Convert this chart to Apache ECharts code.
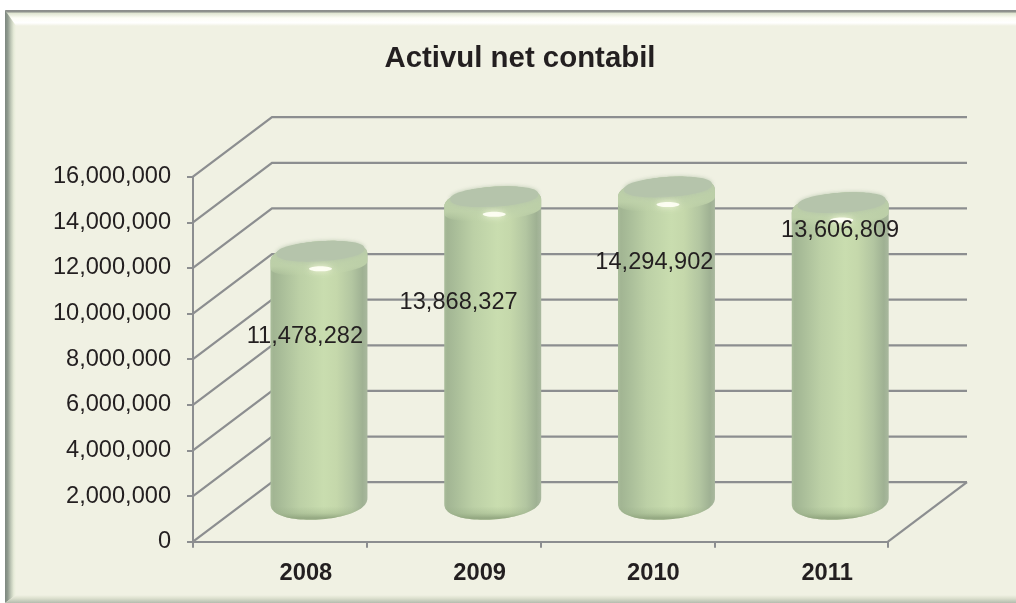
<!DOCTYPE html>
<html>
<head>
<meta charset="utf-8">
<style>html,body{margin:0;padding:0;background:#fff}#c{width:1016px;height:603px}</style>
<script src="https://cdn.jsdelivr.net/npm/echarts@6/dist/echarts.min.js"></script>
</head>
<body>
<div id="c"></div>
<script>
const titleText = 'Activul net contabil';
const categories = ['2008', '2009', '2010', '2011'];
const values = [11478282, 13868327, 14294902, 13606809];
const yTicks = [0, 2000000, 4000000, 6000000, 8000000, 10000000, 12000000, 14000000, 16000000];

const FONT = '"Liberation Sans", Arial, sans-serif';
const INK = '#231f20';
const LINE = '#8c8e90';
const BG = '#f0f1e3';
const DEPTH_X = 79, DEPTH_Y = -59.5;
// label nudges relative to the bar's front position
const labelNudge = [[25, 57], [5, 77], [27, 47], [39, -1]];

const chart = echarts.init(document.getElementById('c'), null, {renderer: 'canvas'});

function lin(horizontal, stops) {
  return {type: 'linear', x: 0, y: 0, x2: horizontal ? 1 : 0, y2: horizontal ? 0 : 1,
    colorStops: stops.map(s => ({offset: s[0], color: s[1]}))};
}
function arc(cx, cy, a, b, tilt, upper, reverse) {
  const pts = [], n = 48;
  for (let i = 0; i <= n; i++) {
    const t = Math.PI * i / n;
    const dx = -a * Math.cos(t);
    const h = b * Math.pow(Math.sin(t), 0.85);
    pts.push([cx + dx, cy + tilt * dx + (upper ? -h : h)]);
  }
  return reverse ? pts.reverse() : pts;
}

function renderWall(params, api) {
  const cs = params.coordSys;
  const y = api.coord([0, api.value(1)])[1];
  const x0 = cs.x, x1 = cs.x + cs.width;
  const style = {stroke: LINE, lineWidth: 2.2, fill: 'none'};
  const children = [{type: 'polyline', silent: true, style,
    shape: {points: [[x0, y], [x0 + DEPTH_X, y + DEPTH_Y], [x1 + DEPTH_X, y + DEPTH_Y]]}}];
  if (api.value(1) === 0) {
    children.push({type: 'line', silent: true, style,
      shape: {x1: x1, y1: y, x2: x1 + DEPTH_X, y2: y + DEPTH_Y}});
  }
  return {type: 'group', children};
}

function renderCylinder(params, api) {
  const cat = api.value(0), v = api.value(1);
  const front = api.coord([cat, v]);
  const zero = api.coord([cat, 0]);
  const a = api.size([1, 0])[0] * 0.279;
  const cx = front[0] + DEPTH_X / 2 - 0.4;
  const yt = front[1] - 21.6;
  const yb = zero[1] - 41.2;
  const tilt = -0.075;
  const body = arc(cx, yt, a, 17, tilt, true).concat(arc(cx, yb, a, 19, -0.062, false, true));
  const nudge = labelNudge[params.dataIndex];
  const label = Math.round(v).toString().replace(/\B(?=(\d{3})+$)/g, ',');
  return {type: 'group', children: [
    {type: 'polygon', silent: true, shape: {points: body},
      style: {fill: lin(true, [[0, '#a9bd9a'], [0.03, '#a2b593'], [0.1, '#a8bc98'], [0.3, '#bcd0a6'],
        [0.55, '#c9ddaf'], [0.68, '#c5d8ab'], [0.84, '#b3c6a1'], [0.95, '#9fb193'], [1, '#a9b89e']])}},
    // soft lip under the cap
    {type: 'polygon', silent: true,
      shape: {points: arc(cx, yt, a, 17, tilt, true).concat(arc(cx, yt + 6, a, 11, tilt, false, true))},
      style: {fill: lin(false, [[0, '#b8caa8'], [0.5, '#bccfa8'], [0.72, 'rgba(191,210,170,0.9)'], [1, 'rgba(197,216,173,0)']])}},
    // top face
    {type: 'polygon', silent: true,
      shape: {points: arc(cx + 1.5, yt - 7, a - 4.5, 10, -0.06, true).concat(arc(cx + 1.5, yt - 7, a - 4.5, 10, -0.06, false, true))},
      style: {fill: '#b5c4ab', shadowBlur: 4, shadowColor: 'rgba(181,196,171,0.9)'}},
    // highlight
    {type: 'ellipse', silent: true, shape: {cx: cx + 1.5, cy: yt + 10.5, rx: 11.5, ry: 2.6},
      style: {fill: 'rgba(255,255,245,0.92)', shadowBlur: 6, shadowColor: 'rgba(250,252,225,1)'}},
    // bottom bevel
    {type: 'polygon', silent: true,
      shape: {points: arc(cx, yb, a, 19, -0.062, false).concat(arc(cx, yb, a, 6, -0.062, false, true))},
      style: {fill: lin(false, [[0, 'rgba(150,172,132,0)'], [0.4, 'rgba(150,172,132,0)'], [0.7, 'rgba(150,172,132,0.35)'], [0.92, 'rgba(146,166,128,0.95)'], [1, 'rgba(146,166,128,0.85)']])}},
    {type: 'text', silent: true, z2: 50,
      style: {x: front[0] + nudge[0], y: front[1] + nudge[1], text: label, fill: INK, align: 'center', verticalAlign: 'middle',
        font: '23.6px ' + FONT}}
  ]};
}

chart.setOption({
  animation: false,
  backgroundColor: '#ffffff',
  textStyle: {fontFamily: FONT},
  title: {text: titleText, left: 515, top: 39, textAlign: 'center',
    textStyle: {fontFamily: FONT, fontSize: 29.4, fontWeight: 'bold', color: INK}},
  grid: {left: 193, top: 176.7, width: 695, height: 365},
  graphic: [
    {type: 'rect', z: -10, silent: true, shape: {x: 5, y: 10, width: 1011, height: 593}, style: {fill: BG}},
    {type: 'polygon', z: -9, silent: true, shape: {points: [[5, 10], [1016, 10], [1016, 26], [16, 26]]},
      style: {fill: lin(false, [[0, '#8b8d8b'], [0.12, '#8f938d'], [0.2, '#dfe5d0'], [0.5, '#fdfef6'], [0.8, '#ffffff'], [1, BG]])}},
    {type: 'polygon', z: -9, silent: true, shape: {points: [[5, 10], [16, 26], [16, 595], [5, 603]]},
      style: {fill: lin(true, [[0, '#7d8780'], [0.25, '#8f9a8e'], [0.55, '#c3cbba'], [0.8, '#e6ebd8'], [1, BG]])}},
    {type: 'polygon', z: -9, silent: true, shape: {points: [[5, 603], [16, 595], [1016, 595], [1016, 603]]},
      style: {fill: lin(false, [[0, BG], [0.4, '#dde1cf'], [1, '#b4bcae']])}}
  ],
  xAxis: {
    type: 'category', data: categories,
    axisLine: {show: true, lineStyle: {color: LINE, width: 2}},
    axisTick: {show: true, length: 6, lineStyle: {color: LINE, width: 2}},
    axisLabel: {color: INK, fontFamily: FONT, fontSize: 23.7, fontWeight: 'bold', margin: 20, padding: [0, 0, 0, 52]}
  },
  yAxis: {
    type: 'value', min: 0, max: 16000000, interval: 2000000,
    splitLine: {show: false},
    axisLine: {show: true, lineStyle: {color: LINE, width: 2}},
    axisTick: {show: true, length: 6, lineStyle: {color: LINE, width: 2}},
    axisLabel: {color: INK, fontFamily: FONT, fontSize: 23.6, margin: 22, padding: [2, 0, 0, 0],
      formatter: v => String(v).replace(/\B(?=(\d{3})+$)/g, ',')}
  },
  series: [
    {type: 'custom', z: 1, coordinateSystem: 'cartesian2d', renderItem: renderWall, silent: true,
      encode: {x: 0, y: 1}, data: yTicks.map(t => [0, t])},
    {type: 'custom', z: 3, coordinateSystem: 'cartesian2d', renderItem: renderCylinder, silent: true,
      encode: {x: 0, y: 1}, data: values.map((v, i) => [i, v])}
  ]
});
</script>
</body>
</html>
